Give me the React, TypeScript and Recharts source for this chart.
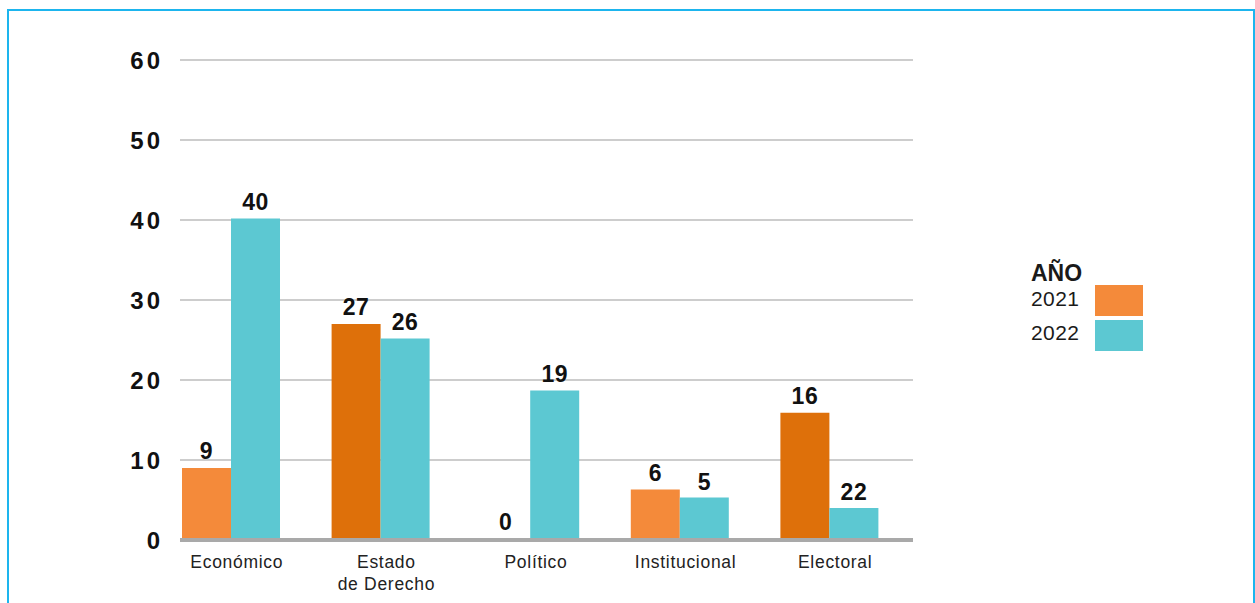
import { BarChart, Bar, XAxis, YAxis, CartesianGrid, Cell, LabelList } from 'recharts';

const categorias = ['Económico', 'Estado de Derecho', 'Político', 'Institucional', 'Electoral'];
const valores2021 = [9, 27, 0, 6.3, 15.9];
const valores2022 = [40.2, 25.2, 18.7, 5.3, 4];
const etiquetas2021 = ['9', '27', '0', '6', '16'];
const etiquetas2022 = ['40', '26', '19', '5', '22'];
const colores2021 = ['#F48A3A', '#DE700A', 'transparent', '#F48A3A', '#DE700A'];
const ticksY = [0, 10, 20, 30, 40, 50, 60];

const FONT = '"Liberation Sans", Arial, Helvetica, sans-serif';
const NARANJA = '#F48A3A';
const TURQUESA = '#5CC8D2';

const data = categorias.map((c, i) => ({
  categoria: c,
  v2021: valores2021[i],
  v2022: valores2022[i],
  l2021: etiquetas2021[i],
  l2022: etiquetas2022[i],
}));

function CategoryTick({ x, y, payload }: any) {
  const words = String(payload.value);
  const lines = words === 'Estado de Derecho' ? ['Estado', 'de Derecho'] : [words];
  return (
    <text
      x={x + 6}
      y={y}
      textAnchor="middle"
      fill="#222"
      fontSize={17.5}
      fontFamily={FONT}
      letterSpacing={0.7}
    >
      {lines.map((l, i) => (
        <tspan key={l} x={x + 6} dy={i === 0 ? 20 : 22}>
          {l}
        </tspan>
      ))}
    </text>
  );
}

function LegendBox() {
  return (
    <div
      style={{
        fontFamily: FONT,
        color: '#1a1a1a',
        position: 'absolute',
        left: 1031,
        top: 260,
        width: 130,
        height: 100,
      }}
    >
      <div style={{ position: 'absolute', left: 0, top: 0, fontWeight: 'bold', fontSize: 23 }}>AÑO</div>
      <div style={{ position: 'absolute', left: 0, top: 27, fontSize: 21, letterSpacing: 0.4 }}>2021</div>
      <div style={{ position: 'absolute', left: 0, top: 61, fontSize: 21, letterSpacing: 0.4 }}>2022</div>
      <div style={{ position: 'absolute', left: 64, top: 25, width: 48, height: 31, background: NARANJA }} />
      <div style={{ position: 'absolute', left: 64, top: 60, width: 48, height: 31, background: TURQUESA }} />
    </div>
  );
}

export default function App() {
  return (
    <div style={{ position: 'fixed', left: 0, top: 0, width: 1255, height: 603, background: '#fff' }}>
      <div
        style={{
          position: 'absolute',
          left: 7,
          top: 9,
          width: 1244,
          height: 600,
          borderTop: '2px solid #1DB5EE',
          borderLeft: '2px solid #1DB5EE',
          borderRight: '2px solid #1DB5EE',
        }}
      />
      <BarChart
        width={1255}
        height={603}
        data={data}
        margin={{ top: 60, right: 342, bottom: 13, left: 120 }}
        barGap={0}
        barSize={49}
        style={{ position: 'absolute', left: 0, top: 0 }}
      >
        <CartesianGrid horizontal vertical={false} stroke="#BDBDBD" strokeWidth={1.5} />
        <XAxis
          dataKey="categoria"
          height={50}
          interval={0}
          axisLine={{ stroke: '#A9A9A9', strokeWidth: 4 }}
          tickLine={false}
          padding={{ left: -24, right: 9 }}
          tick={<CategoryTick />}
        />
        <YAxis
          width={60}
          domain={[0, 60]}
          ticks={ticksY}
          axisLine={false}
          tickLine={false}
          tickMargin={11}
          tick={{ fill: '#111', fontSize: 24, fontWeight: 'bold', fontFamily: FONT, letterSpacing: 3 }}
        />
        <Bar dataKey="v2021" fill={NARANJA} minPointSize={1} isAnimationActive={false}>
          {data.map((d, i) => (
            <Cell key={d.categoria} fill={colores2021[i]} />
          ))}
          <LabelList
            dataKey="l2021"
            position="top"
            offset={9}
            fill="#111"
            fontSize={23}
            fontWeight="bold"
            fontFamily={FONT}
            letterSpacing={0.5}
          />
        </Bar>
        <Bar dataKey="v2022" fill={TURQUESA} isAnimationActive={false}>
          <LabelList
            dataKey="l2022"
            position="top"
            offset={8}
            fill="#111"
            fontSize={23}
            fontWeight="bold"
            fontFamily={FONT}
            letterSpacing={0.5}
          />
        </Bar>
      </BarChart>
      <LegendBox />
    </div>
  );
}
